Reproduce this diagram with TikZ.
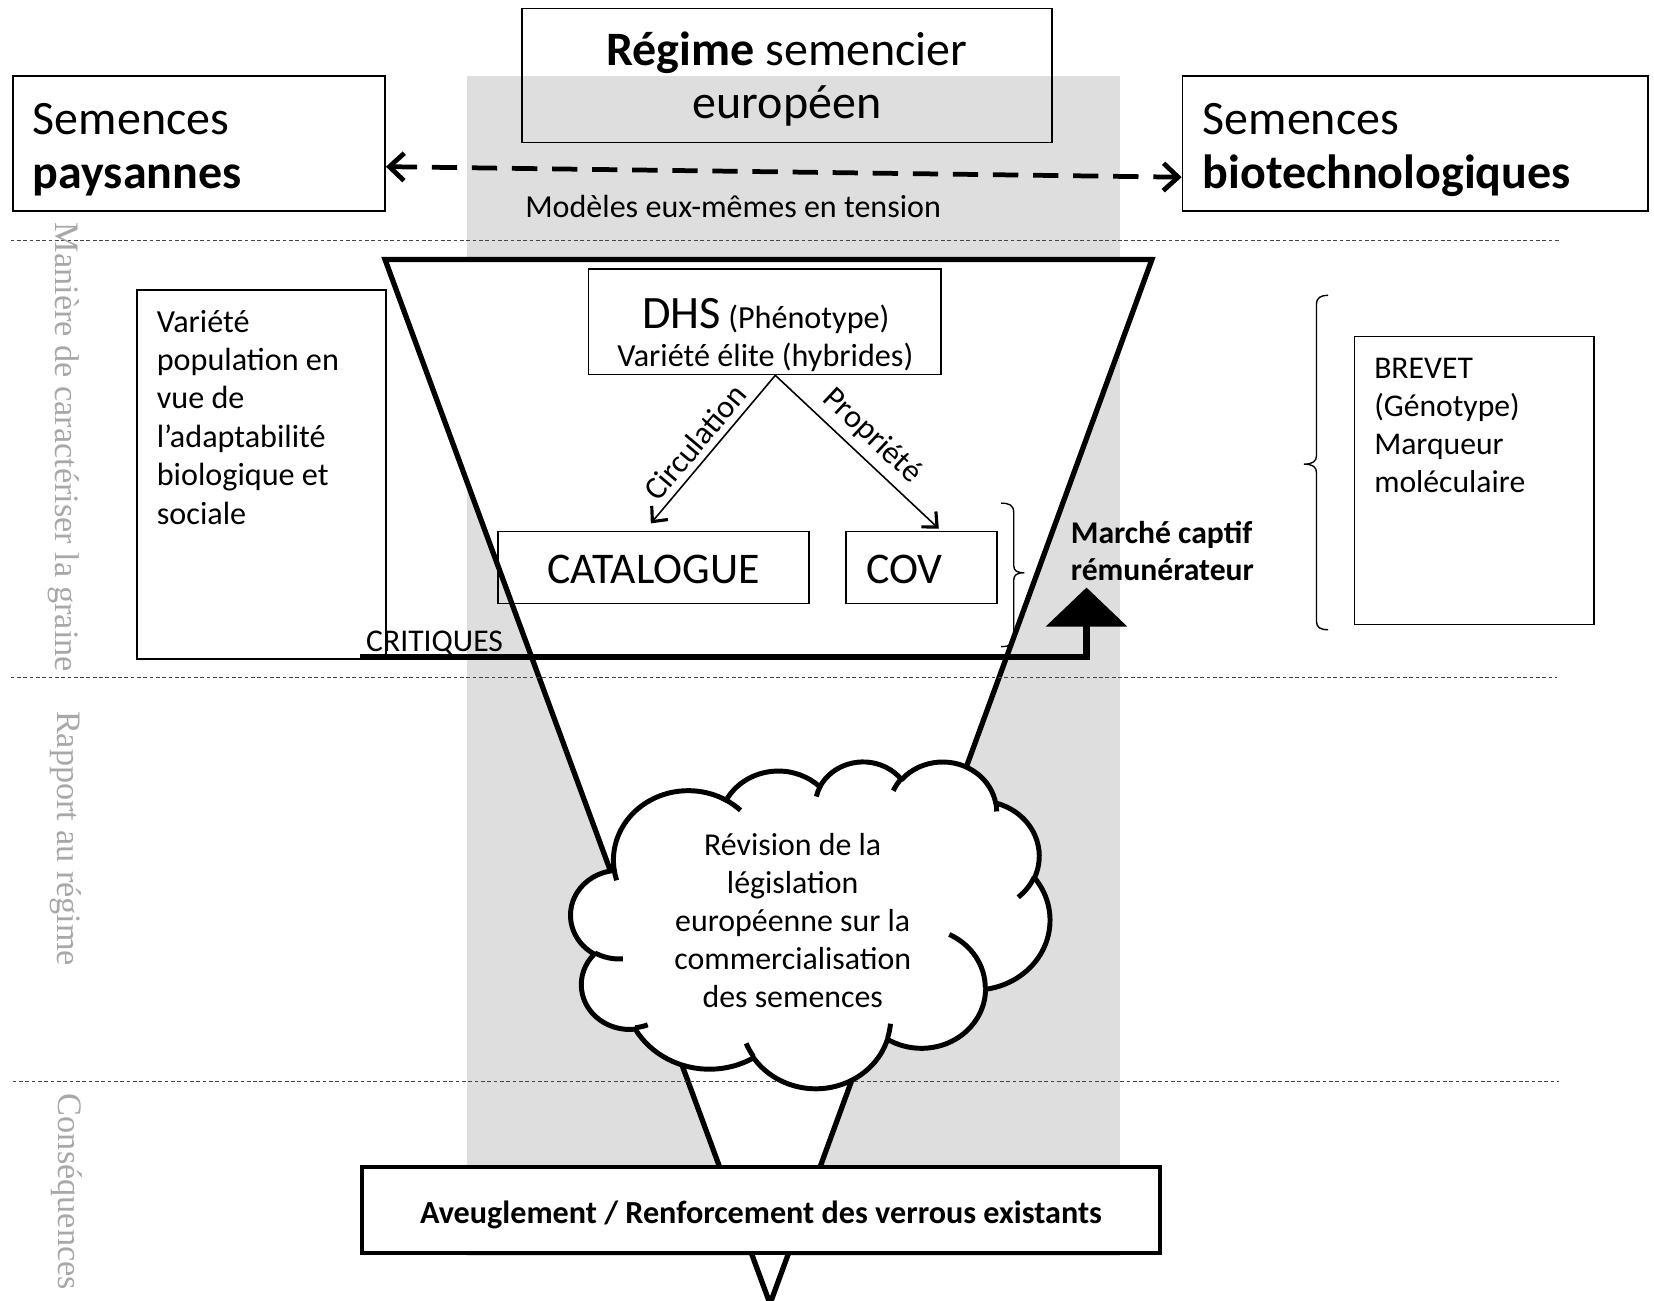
\documentclass[tikz,border=0pt]{standalone}
\usepackage{fontspec}
\setmainfont{Carlito}
\newfontfamily\sidefont{Liberation Serif}
\usetikzlibrary{arrows.meta,calc}
\definecolor{bandgray}{HTML}{DEDEDE}
\definecolor{sidegray}{HTML}{A8A8A8}
\definecolor{sepline}{HTML}{444444}
\newcommand\fbig{\fontsize{45.5}{51}\selectfont}
\newcommand\fmid{\fontsize{30.5}{36}\selectfont}
\newcommand\cldarc[4]{%
  \pgfextra{%
    \pgfmathsetmacro\cldA{#3}%
    \pgfmathsetmacro\cldB{#3+#4}%
    \pgfmathsetmacro\cldTa{atan2(#1*sin(\cldA),#2*cos(\cldA))}%
    \pgfmathsetmacro\cldTb{atan2(#1*sin(\cldB),#2*cos(\cldB))}%
    \pgfmathsetmacro\cldTb{\cldTb<\cldTa ? \cldTb+360 : \cldTb}%
    \global\let\cldTa\cldTa
    \global\let\cldTb\cldTb}%
  arc[start angle=\cldTa, end angle=\cldTb, x radius=#1, y radius=#2]}
\begin{document}
\begin{tikzpicture}[x=1pt,y=-1pt,
  box/.style={draw=black, line width=1.6pt, inner sep=0pt},
  txt/.style={inner sep=0pt, font=\fmid},
  sidelab/.style={inner sep=0pt, font=\sidefont\fontsize{32.5}{32.5}\selectfont, text=sidegray, rotate=-90},
  sepdash/.style={draw=sepline, line width=1pt, dash pattern=on 3.5pt off 2.5pt},
  thinarrow/.style={line width=1.5pt, -{Straight Barb[length=11pt,width=20pt,line width=3pt]}},
  cloudline/.style={line width=4.7pt, line join=round},
  bracestyle/.style={line width=1.3pt}]
\useasboundingbox (0,0) rectangle (1568,1233);
\fill[white] (0,0) rectangle (1568,1233);
% grey band
\fill[bandgray] (443,72) rectangle (1062,1191);
% funnel
\draw[line width=5pt, fill=white, line join=miter] (365,246) -- (1092,246) -- (730,1236) -- cycle;
% separators
\draw[sepdash] (10,228) -- (1478,228);
\draw[sepdash] (10,642) -- (1476,642);
\draw[sepdash] (12,1025) -- (1478,1025);
% side labels
\node[sidelab] (lab1) at (60,424) {Manière de caractériser la graine};
\node[sidelab] (lab2) at (62,795) {Rapport au régime};
\node[sidelab] (lab3) at (63,1130) {Conséquences};
% top boxes
\node[box, minimum width=502pt, minimum height=127pt] (regime) at (746,71.5) {};
\node[txt, font=\fbig, align=center] (regimetxt) at (746,75) {\textbf{Régime} semencier\\européen};
\node[box, minimum width=353pt, minimum height=128pt] (pay) at (188.5,136) {};
\node[txt, font=\fbig, align=left, anchor=west] (paytxt) at (31,142) {Semences\\\textbf{paysannes}};
\node[box, minimum width=441pt, minimum height=128pt] (bio) at (1341.5,136) {};
\node[txt, font=\fbig, align=left, anchor=west] (biotxt) at (1140,142) {Semences\\\textbf{biotechnologiques}};
\draw[line width=4.5pt, dash pattern=on 24pt off 14pt,
  {Straight Barb[length=14pt,width=26pt]}-{Straight Barb[length=14pt,width=26pt]}]
  ([yshift=-22pt]pay.east) -- ([yshift=-32pt]bio.west);
\node[txt, font=\fontsize{30.4}{30.4}\selectfont] (modeles) at (695,196) {Modèles eux-mêmes en tension};
% left box
\node[box, minimum width=236pt, minimum height=350pt] (var) at (248,450) {};
\node[txt, align=left, anchor=west, font=\fontsize{30.5}{36.4}\selectfont] (vartxt) at (148.5,395.5)
  {Variété\\population en\\vue de\\l’adaptabilité\\biologique et\\sociale};
% DHS
\node[box, minimum width=334pt, minimum height=100pt] (dhs) at (725,305) {};
\node[txt, anchor=base] (dhs1) at (726,311) {{\fontsize{44}{44}\selectfont DHS} (Phénotype)};
\node[txt, anchor=base] (dhs2) at (725.5,347) {Variété élite (hybrides)};
\node[box, minimum width=295pt, minimum height=68pt, font=\fontsize{41.5}{41.5}\selectfont, text height=30.5pt, text depth=0pt] (cat) at (619.5,538) {CATALOGUE};
\node[box, minimum width=143pt, minimum height=68pt, text width=105pt, align=left, inner xsep=19pt, font=\fontsize{41.5}{41.5}\selectfont, text height=30.5pt, text depth=0pt] (cov) at (873.5,538) {COV};
\draw[thinarrow] ([xshift=10pt]dhs.south) -- node[txt, sloped, above=6pt, pos=0.53] (circ) {Circulation} ([xshift=-2.5pt,yshift=7pt]cat.north);
\draw[thinarrow] ([xshift=10pt]dhs.south) -- node[txt, sloped, above=7pt, pos=0.5] (prop) {Propriété} ([xshift=16.5pt,yshift=2pt]cov.north);
% small brace
\draw[bracestyle] (949,477) .. controls (957,477) and (961,479) .. (961,486) -- (961,536)
  .. controls (961,541) and (964,543) .. (971,543) .. controls (964,543) and (961,545) .. (961,550)
  -- (961,605) .. controls (961,611) and (957,613) .. (949,613);
% critiques arrow
\coordinate (critstart) at (341,623);
\coordinate (crittip) at (1030,557);
\draw[line width=6.3pt, line join=miter, -{Triangle[length=37pt,width=76pt]}] (critstart) -| (crittip);
\node[txt, anchor=base west, font=\fontsize{30}{30}\selectfont] (crit) at (347,618) {CRITIQUES};
\node[txt, anchor=west, align=left, font=\bfseries\fontsize{30}{35}\selectfont] (marche) at (1015,522) {Marché captif\\rémunérateur};
% big brace
\draw[bracestyle] (1259,280) .. controls (1252,280) and (1248,282) .. (1248,289) -- (1248,432)
  .. controls (1248,437) and (1245,440) .. (1236,440) .. controls (1245,440) and (1248,443) .. (1248,448)
  -- (1248,589) .. controls (1248,595) and (1252,597) .. (1259,597);
% brevet
\node[box, minimum width=227pt, minimum height=273pt] (brevet) at (1397.5,455.5) {};
\node[txt, anchor=west, align=left, font=\fontsize{30}{36.2}\selectfont] (brevettxt) at (1302.6,403.5)
  {BREVET\\(Génotype)\\Marqueur\\moléculaire};
% cloud
\begin{scope}[shift={(541.2,721.3)}, xscale=1.051, yscale=0.717]
\path[cloudline, draw=black, fill=white] (39.00,143.70)
  \cldarc{67.53}{91.90}{-190.4875}{123.7805}
  \cldarc{53.33}{72.67}{-144.1024}{89.9452}
  \cldarc{43.65}{59.45}{-145.8079}{99.7230}
  \cldarc{48.57}{65.95}{-130.9861}{117.2417}
  \cldarc{53.33}{72.73}{-78.7089}{109.0269}
  \cldarc{67.75}{92.20}{-46.2673}{130.2690}
  \cldarc{57.85}{78.67}{0.6250}{114.0333}
  \cldarc{67.52}{92.15}{22.4516}{115.1726}
  \cldarc{77.20}{105.43}{66.2426}{75.7110}
  \cldarc{43.60}{59.18}{-274.9421}{146.7356}
  \cldarc{43.45}{59.45}{-246.8285}{152.5189}
  -- cycle;
\draw[cloudline]
  (46.93,261.77) \cldarc{43.45}{59.45}{86.7420}{26.4295}
  (69.28,348.99) \cldarc{43.60}{59.18}{73.6105}{11.4475}
  (164.78,390.90) \cldarc{67.52}{92.15}{137.6242}{14.0811}
  (288.27,347.51) \cldarc{67.52}{92.15}{6.4533}{15.9984}
  (341.29,229.54) \cldarc{57.85}{78.67}{-70.2924}{70.9174}
  (417.98,153.54) \cldarc{53.33}{72.73}{30.3180}{27.7515}
  (383.24,54.26) \cldarc{48.57}{65.95}{-13.7443}{14.8589}
  (290.78,39.52) \cldarc{48.57}{65.95}{-149.1815}{18.1954}
  (221.41,47.20) \cldarc{43.65}{59.45}{-163.4943}{17.6864}
  (140.00,51.92) \cldarc{67.53}{91.90}{-66.7070}{12.3194}
  (41.27,157.89) \cldarc{67.53}{91.90}{157.6544}{11.8582};
\end{scope}
\node[txt, align=center, font=\fontsize{30.2}{36.1}\selectfont] (cloudtxt) at (751.5,872.5)
  {Révision de la\\législation\\européenne sur la\\commercialisation\\des semences};
% bottom box
\node[box, line width=3.8pt, fill=white, minimum width=757pt, minimum height=82pt,
  font=\bfseries\fontsize{30.5}{30.5}\selectfont, text height=28pt, text depth=2pt] (bottom) at (721.5,1147)
  {Aveuglement / Renforcement des verrous existants};
\end{tikzpicture}
\end{document}
